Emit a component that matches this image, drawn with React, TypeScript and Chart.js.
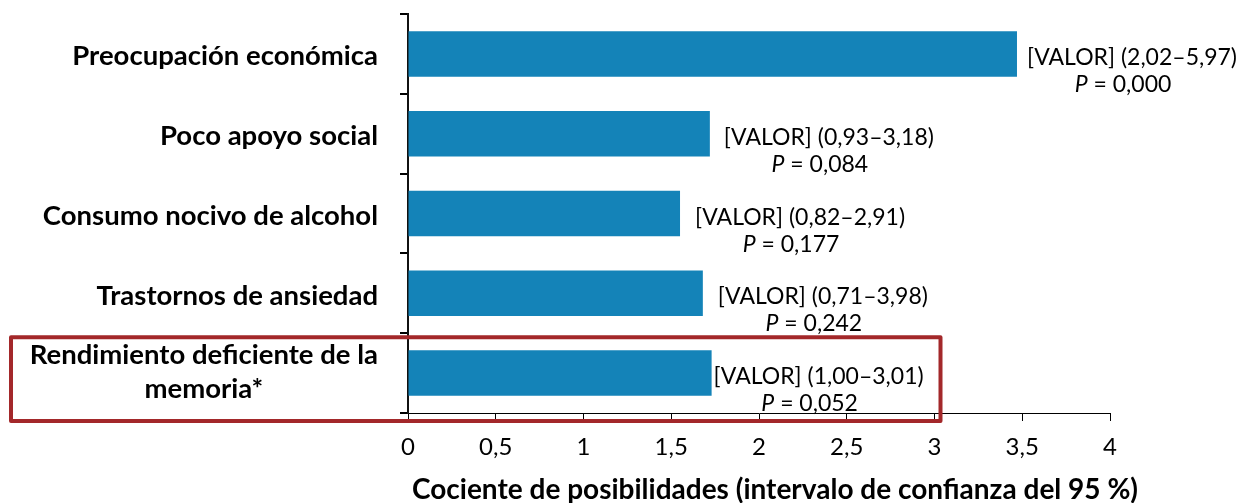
import React, { useEffect, useRef } from 'react';
import { Chart, registerables } from 'chart.js';

Chart.register(...registerables);

const categories: (string | string[])[] = [
  'Preocupación económica',
  'Poco apoyo social',
  'Consumo nocivo de alcohol',
  'Trastornos de ansiedad',
  ['Rendimiento deficiente de la', 'memoria*'],
];
const oddsRatios = [3.47, 1.72, 1.55, 1.68, 1.73];
const ciLabels = ['(2,02–5,97)', '(0,93–3,18)', '(0,82–2,91)', '(0,71–3,98)', '(1,00–3,01)'];
const pValues = ['0,000', '0,084', '0,177', '0,242', '0,052'];
const valuePlaceholder = '[VALOR]';
const xMin = 0;
const xMax = 4;
const xStep = 0.5;
const xTitle = 'Cociente de posibilidades (intervalo de confianza del 95 %)';
const highlightIndex = 4;

const FONT = 'Lato, "Open Sans", sans-serif';
const BAR_COLOR = '#1483B8';
const RED = '#A3282A';
const labelOffsets = [10, 14, 15, 15, 2];

const overlayPlugin = {
  id: 'overlay',
  afterDraw(chart: any) {
    const { ctx, scales, chartArea } = chart;
    const xs = scales.x;
    const ys = scales.y;
    ctx.save();
    ctx.fillStyle = '#000';

    // Category labels
    const catFont = `bold 27.5px ${FONT}`;
    ctx.font = catFont;
    const rightEdge = ys.right - 30;
    categories.forEach((cat, i) => {
      const y = ys.getPixelForValue(i);
      if (Array.isArray(cat)) {
        const widths = cat.map((l) => ctx.measureText(l).width);
        const maxW = Math.max(...widths);
        const cx = rightEdge - maxW / 2;
        ctx.textAlign = 'center';
        ctx.textBaseline = 'alphabetic';
        const lh = 34;
        const start = y - 9;
        cat.forEach((l, k) => ctx.fillText(l, cx, start + k * lh));
      } else {
        ctx.textAlign = 'right';
        ctx.textBaseline = 'alphabetic';
        ctx.fillText(cat, rightEdge, y + 11.5);
      }
    });

    // Value labels
    const meta = chart.getDatasetMeta(0);
    meta.data.forEach((bar: any, i: number) => {
      const x0 = bar.x + labelOffsets[i];
      const y = bar.y;
      const line1 = `${valuePlaceholder} ${ciLabels[i]}`;
      ctx.font = `23px ${FONT}`;
      ctx.textAlign = 'left';
      ctx.textBaseline = 'alphabetic';
      const w1 = ctx.measureText(line1).width;
      ctx.fillText(line1, x0, y + 11);
      const cx = x0 + w1 / 2 - 9;
      ctx.font = `italic 23px ${FONT}`;
      const wp = ctx.measureText('P').width;
      ctx.font = `23px ${FONT}`;
      const rest = ` = ${pValues[i]}`;
      const wr = ctx.measureText(rest).width;
      const sx = cx - (wp + wr) / 2;
      ctx.font = `italic 23px ${FONT}`;
      ctx.fillText('P', sx, y + 38);
      ctx.font = `23px ${FONT}`;
      ctx.fillText(rest, sx + wp, y + 38);
    });

    // X axis title
    ctx.font = `bold 28px ${FONT}`;
    ctx.textAlign = 'center';
    ctx.textBaseline = 'alphabetic';
    ctx.fillText(xTitle, 775, 499);

    // Highlight rectangle
    const top = (ys.getPixelForValue(highlightIndex - 1) + ys.getPixelForValue(highlightIndex)) / 2 + 4;
    const bottom = chartArea.bottom + 8;
    const right = xs.getPixelForValue(3) + 6;
    const left = 11;
    ctx.strokeStyle = RED;
    ctx.lineWidth = 4;
    ctx.lineJoin = 'round';
    ctx.strokeRect(left, top, right - left, bottom - top);
    ctx.restore();
  },
};

export default function App() {
  const ref = useRef<HTMLCanvasElement | null>(null);
  useEffect(() => {
    if (!ref.current) return;
    const chart = new Chart(ref.current, {
      type: 'bar',
      data: {
        labels: categories as any,
        datasets: [
          {
            data: oddsRatios,
            backgroundColor: BAR_COLOR,
            barPercentage: 0.57,
            categoryPercentage: 1,
          },
        ],
      },
      options: {
        indexAxis: 'y',
        animation: false,
        responsive: false,
        maintainAspectRatio: false,
        devicePixelRatio: 1,
        layout: { padding: { top: 14, right: 133, left: 0, bottom: 0 } },
        plugins: { legend: { display: false }, tooltip: { enabled: false } },
        scales: {
          x: {
            type: 'linear',
            min: xMin,
            max: xMax,
            afterFit(scale: any) {
              scale.height = 90;
            },
            ticks: {
              stepSize: xStep,
              color: '#000',
              padding: 12,
              font: { family: FONT, size: 24 },
              callback: (v: any) => String(v).replace('.', ','),
            },
            grid: {
              drawOnChartArea: false,
              drawTicks: true,
              tickLength: 8,
              color: '#000',
            },
            border: { display: true, color: '#000', width: 1 },
          },
          y: {
            type: 'category',
            afterFit(scale: any) {
              scale.width = 408;
            },
            ticks: { display: false },
            grid: {
              offset: true,
              drawOnChartArea: false,
              drawTicks: true,
              tickLength: 8,
              color: '#000',
              lineWidth: 2,
            },
            border: { display: true, color: '#111', width: 2 },
          },
        },
      },
      plugins: [overlayPlugin],
    });
    return () => chart.destroy();
  }, []);
  return (
    <div style={{ position: 'absolute', left: 0, top: 0, width: 1243, height: 503, background: '#fff' }}>
      <canvas ref={ref} width={1243} height={503} />
    </div>
  );
}
